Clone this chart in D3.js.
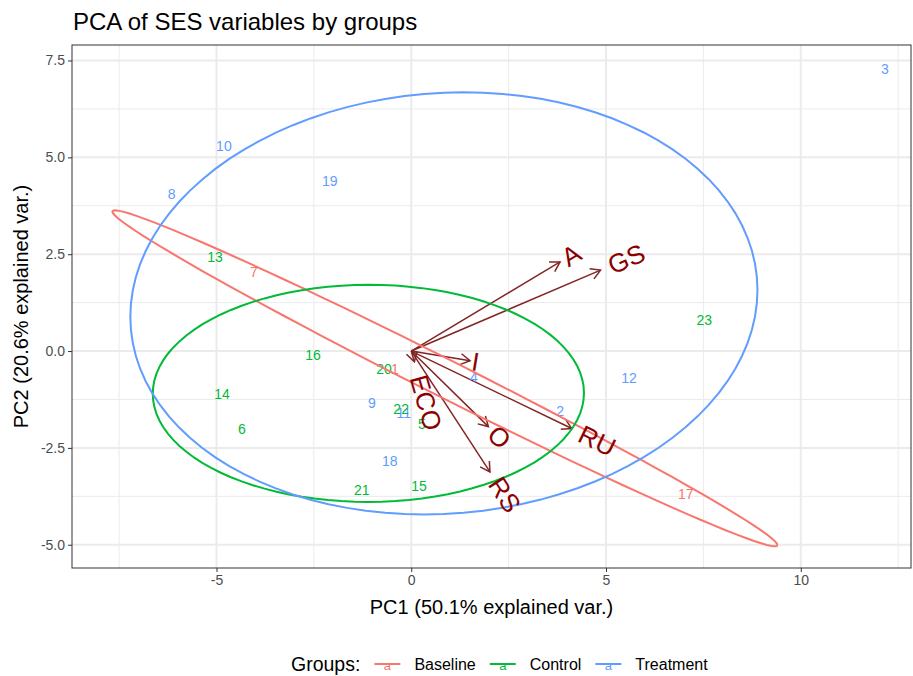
<!DOCTYPE html>
<html>
<head>
<meta charset="utf-8">
<script src="https://cdn.jsdelivr.net/npm/d3@7"></script>
<style>
  body { margin: 0; background: #fff; }
  text { font-family: "Liberation Sans", Arial, sans-serif; }
</style>
</head>
<body>
<svg id="chart" width="913" height="676"></svg>
<script>
// groups and colours (ggplot default hues)
const groups = ["Baseline", "Control", "Treatment"];
const groupColors = ["#F8766D", "#00BA38", "#619CFF"];

const obsIds   = [1, 2, 3, 4, 5, 6, 7, 8, 9, 10, 11, 12, 13, 14, 15, 16, 17, 18, 19, 20, 21, 22, 23];
const obsGroup = ["Baseline", "Treatment", "Treatment", "Treatment", "Control", "Control", "Baseline",
                  "Treatment", "Treatment", "Treatment", "Treatment", "Treatment", "Control", "Control",
                  "Control", "Control", "Baseline", "Treatment", "Treatment", "Control", "Control",
                  "Control", "Control"];
const pc1 = [-0.42, 3.82, 12.16, 1.61, 0.27, -4.35, -4.04, -6.15, -1.01, -4.81, -0.19, 5.59,
             -5.04, -4.86, 0.20, -2.52, 7.05, -0.55, -2.09, -0.70, -1.27, -0.26, 7.52];
const pc2 = [-0.46, -1.55, 7.28, -0.67, -1.89, -2.01, 2.04, 4.05, -1.34, 5.29, -1.60, -0.70,
             2.43, -1.11, -3.49, -0.10, -3.69, -2.84, 4.39, -0.46, -3.59, -1.50, 0.80];

// variable loadings (arrow tips)
const varNames = ["A", "GS", "I", "ECO", "O", "RS", "RU"];
const varPC1 = [3.82, 4.86, 1.51, 0.08, 1.98, 2.02, 4.12];
const varPC2 = [2.30, 2.09, -0.25, -0.28, -1.95, -3.12, -2.00];

const xTicks = [-5, 0, 5, 10];
const xMinor = [-7.5, -2.5, 2.5, 7.5, 12.5];
const yTicks = [-5, -2.5, 0, 2.5, 5, 7.5];
const yMinor = [-3.75, -1.25, 1.25, 3.75, 6.25];

const ellipseProb = 0.68;
const varnameAdjust = 1.5;

const panel = {left: 72, right: 911, top: 45, bottom: 568};

const svg = d3.select("#chart");

const x = d3.scaleLinear().domain([-8.71, 12.83]).range([panel.left, panel.right]);
const y = d3.scaleLinear().domain([-5.60, 7.90]).range([panel.bottom, panel.top]);
const color = d3.scaleOrdinal().domain(groups).range(groupColors);

const obs = obsIds.map((id, i) => ({id: id, group: obsGroup[i], x: pc1[i], y: pc2[i]}));
const vars = varNames.map((n, i) => ({name: n, x: varPC1[i], y: varPC2[i]}));

// panel background + grid
const grid = svg.append("g");
grid.selectAll("line.xminor").data(xMinor).enter().append("line")
    .attr("x1", d => x(d)).attr("x2", d => x(d))
    .attr("y1", panel.top).attr("y2", panel.bottom)
    .attr("stroke", "#EBEBEB").attr("stroke-width", 1);
grid.selectAll("line.yminor").data(yMinor).enter().append("line")
    .attr("y1", d => y(d)).attr("y2", d => y(d))
    .attr("x1", panel.left).attr("x2", panel.right)
    .attr("stroke", "#EBEBEB").attr("stroke-width", 1);
grid.selectAll("line.xmajor").data(xTicks).enter().append("line")
    .attr("x1", d => x(d)).attr("x2", d => x(d))
    .attr("y1", panel.top).attr("y2", panel.bottom)
    .attr("stroke", "#EBEBEB").attr("stroke-width", 2);
grid.selectAll("line.ymajor").data(yTicks).enter().append("line")
    .attr("y1", d => y(d)).attr("y2", d => y(d))
    .attr("x1", panel.left).attr("x2", panel.right)
    .attr("stroke", "#EBEBEB").attr("stroke-width", 2);

// arrows
const arrowColor = "#832424";
const arrows = svg.append("g");
vars.forEach(function (v) {
    const x0 = x(0), y0 = y(0), x1 = x(v.x), y1 = y(v.y);
    arrows.append("line")
        .attr("x1", x0).attr("y1", y0).attr("x2", x1).attr("y2", y1)
        .attr("stroke", arrowColor).attr("stroke-width", 1.5);
    const ang = Math.atan2(y1 - y0, x1 - x0);
    const len = 11, spread = Math.PI / 6;
    const p = [
        [x1 - len * Math.cos(ang - spread), y1 - len * Math.sin(ang - spread)],
        [x1, y1],
        [x1 - len * Math.cos(ang + spread), y1 - len * Math.sin(ang + spread)]
    ];
    arrows.append("path")
        .attr("d", d3.line()(p))
        .attr("fill", "none")
        .attr("stroke", arrowColor).attr("stroke-width", 1.5);
});

// observation labels
svg.append("g").selectAll("text").data(obs).enter().append("text")
    .attr("x", d => x(d.x)).attr("y", d => y(d.y))
    .attr("text-anchor", "middle")
    .attr("dominant-baseline", "central")
    .attr("font-size", "14px")
    .attr("fill", d => color(d.group))
    .text(d => d.id);

// normal data ellipses (as ggbiplot does)
const ed = Math.sqrt(-2 * Math.log(1 - ellipseProb));
const ellipses = groups.map(function (g) {
    const pts = obs.filter(d => d.group === g);
    const mx = d3.mean(pts, d => d.x), my = d3.mean(pts, d => d.y);
    const n = pts.length;
    const sxx = d3.sum(pts, d => (d.x - mx) ** 2) / (n - 1);
    const syy = d3.sum(pts, d => (d.y - my) ** 2) / (n - 1);
    const sxy = d3.sum(pts, d => (d.x - mx) * (d.y - my)) / (n - 1);
    const a = Math.sqrt(sxx), b = sxy / a, c = Math.sqrt(syy - b * b);
    const ring = d3.range(0, 101).map(function (k) {
        const t = 2 * Math.PI * k / 100;
        return [mx + ed * a * Math.cos(t), my + ed * (b * Math.cos(t) + c * Math.sin(t))];
    });
    return {group: g, ring: ring};
});
svg.append("g").selectAll("path").data(ellipses).enter().append("path")
    .attr("d", d => d3.line().x(p => x(p[0])).y(p => y(p[1]))(d.ring))
    .attr("fill", "none")
    .attr("stroke", d => color(d.group))
    .attr("stroke-width", 2);

// variable names
const vl = svg.append("g");
vars.forEach(function (v) {
    const angle = Math.atan(v.y / v.x) * 180 / Math.PI;
    const hjust = (1 - varnameAdjust * Math.sign(v.x)) / 2;
    const g = vl.append("g")
        .attr("transform", "translate(" + x(v.x) + "," + y(v.y) + ") rotate(" + (-angle) + ")");
    const t = g.append("text")
        .attr("dominant-baseline", "central")
        .attr("font-size", "26px")
        .attr("fill", "#8B0000")
        .text(v.name);
    const w = t.node().getComputedTextLength();
    t.attr("x", -hjust * w);
});

// panel border
svg.append("rect")
    .attr("x", panel.left).attr("y", panel.top)
    .attr("width", panel.right - panel.left).attr("height", panel.bottom - panel.top)
    .attr("fill", "none").attr("stroke", "#333333").attr("stroke-width", 1);

// axes (ggplot-style hyphen minus)
const fmtX = d => String(d);
const fmtY = d => d.toFixed(1);
const xAxis = svg.append("g")
    .attr("transform", "translate(0," + panel.bottom + ")")
    .call(d3.axisBottom(x).tickValues(xTicks).tickSize(4).tickPadding(3).tickFormat(fmtX));
const yAxis = svg.append("g")
    .attr("transform", "translate(" + panel.left + ",0)")
    .call(d3.axisLeft(y).tickValues(yTicks).tickSize(4).tickPadding(3).tickFormat(fmtY));
[xAxis, yAxis].forEach(function (ax) {
    ax.select(".domain").remove();
    ax.selectAll(".tick line").attr("stroke", "#333333");
    ax.selectAll(".tick text")
        .attr("fill", "#4D4D4D")
        .attr("font-size", "14px")
        .attr("font-family", "Liberation Sans, Arial, sans-serif");
});

// titles
svg.append("text")
    .attr("x", panel.left + 1).attr("y", 30)
    .attr("font-size", "24px").attr("fill", "#000")
    .text("PCA of SES variables by groups");
svg.append("text")
    .attr("x", (panel.left + panel.right) / 2).attr("y", 614)
    .attr("text-anchor", "middle")
    .attr("font-size", "20px").attr("fill", "#000")
    .text("PC1 (50.1% explained var.)");
svg.append("text")
    .attr("transform", "translate(28," + (panel.top + panel.bottom) / 2 + ") rotate(-90)")
    .attr("text-anchor", "middle")
    .attr("font-size", "20px").attr("fill", "#000")
    .text("PC2 (20.6% explained var.)");

// legend
const legend = svg.append("g").attr("transform", "translate(291,664)");
const lt = legend.append("text")
    .attr("dominant-baseline", "central")
    .attr("font-size", "19.5px").attr("fill", "#000")
    .text("Groups:");
let cx = lt.node().getComputedTextLength() + 14;
groups.forEach(function (g) {
    legend.append("line")
        .attr("x1", cx).attr("x2", cx + 26).attr("y1", 0).attr("y2", 0)
        .attr("stroke", color(g)).attr("stroke-width", 2);
    legend.append("text")
        .attr("x", cx + 13).attr("y", 1)
        .attr("text-anchor", "middle").attr("dominant-baseline", "central")
        .attr("font-size", "13px").attr("fill", color(g))
        .text("a");
    cx += 26 + 14;
    const tt = legend.append("text")
        .attr("x", cx).attr("dominant-baseline", "central")
        .attr("font-size", "16px").attr("fill", "#000")
        .text(g);
    cx += tt.node().getComputedTextLength() + 14;
});
</script>
</body>
</html>
